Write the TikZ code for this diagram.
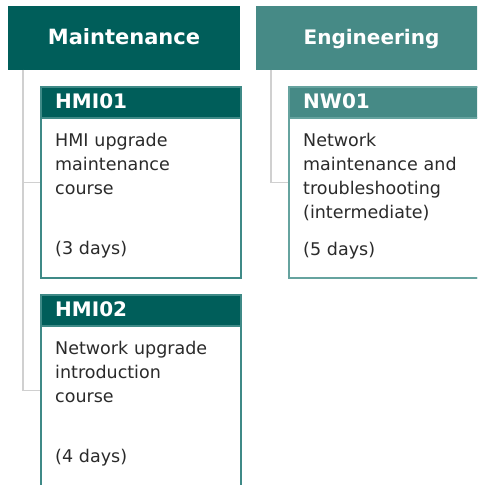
\documentclass[tikz,border=0pt]{standalone}
\usepackage{fontspec}
\setmainfont{DejaVu Sans}
\definecolor{mdark}{HTML}{005E5A}
\definecolor{edark}{HTML}{468A86}
\definecolor{mborder}{HTML}{3F8A87}
\definecolor{eborder}{HTML}{66A39F}
\definecolor{connc}{HTML}{D0D0D0}
\definecolor{bodyc}{HTML}{2A2A2A}
\tikzset{
  hdr/.style={anchor=north west, inner sep=0pt, minimum width=232pt, minimum height=63.5pt, draw=none},
  hdrtext/.style={anchor=base, inner sep=0pt, text=white, font=\fontsize{21pt}{24pt}\selectfont\bfseries},
  card/.style={anchor=north west, inner sep=0pt, minimum width=200pt, minimum height=191pt, fill=white, line width=1.5pt},
  cardhead/.style={anchor=north west, inner sep=0pt, minimum width=200pt, minimum height=31pt, line width=1.5pt},
  cardtitle/.style={anchor=base west, inner sep=0pt, text=white, font=\fontsize{20pt}{24pt}\selectfont\bfseries},
  cardbody/.style={anchor=base west, inner sep=0pt, text=bodyc, text width=185pt, align=left, font=\fontsize{17.5pt}{24pt}\selectfont},
  conn/.style={draw=connc, line width=1.5pt},
}
\begin{document}
\begin{tikzpicture}[x=1pt,y=-1pt]
\useasboundingbox (0,0) rectangle (477,485);
\clip (0,0) rectangle (477,485);

% column headers
\node[hdr, fill=mdark] (mhead) at (8,6) {};
\node[hdrtext] (mtext) at (124,44) {Maintenance};
\node[hdr, fill=edark] (ehead) at (256,6) {};
\node[hdrtext, font=\fontsize{20pt}{24pt}\selectfont\bfseries] (etext) at (371.5,44) {Engineering};

% cards
\node[card, draw=mborder] (hmi1) at (40,86) {};
\node[card, draw=mborder] (hmi2) at (40,294) {};
\node[card, draw=eborder] (nw1) at (288,86) {};

% connectors
\draw[conn] ([xshift=15pt]mhead.south west) |- (hmi1.west);
\draw[conn] ([xshift=15pt]mhead.south west) |- (hmi2.west);
\draw[conn] ([xshift=15pt]ehead.south west) |- (nw1.west);

% redraw card borders over connector ends
\node[card, draw=mborder, fill=none] (hmi1b) at (40,86) {};
\node[card, draw=mborder, fill=none] (hmi2b) at (40,294) {};
\node[card, draw=eborder, fill=none] (nw1b) at (288,86) {};

% card headers
\node[cardhead, fill=mdark, draw=mborder] (hmi1h) at (40,86) {};
\node[cardhead, fill=mdark, draw=mborder] (hmi2h) at (40,294) {};
\node[cardhead, fill=edark, draw=eborder] (nw1h) at (288,86) {};

% texts
\node[cardtitle] (hmi1t) at (55,108) {HMI01};
\node[cardbody] (hmi1d) at (55,146) {HMI upgrade\\maintenance\\course};
\node[cardbody] (hmi1n) at (55,254.5) {(3 days)};

\node[cardtitle] (hmi2t) at (55,316) {HMI02};
\node[cardbody] (hmi2d) at (55,354) {Network upgrade\\introduction\\course};
\node[cardbody] (hmi2n) at (55,462.5) {(4 days)};

\node[cardtitle] (nw1t) at (303,108) {NW01};
\node[cardbody] (nw1d) at (303,146) {Network\\maintenance and\\troubleshooting\\(intermediate)};
\node[cardbody] (nw1n) at (303,255) {(5 days)};
\end{tikzpicture}
\end{document}
